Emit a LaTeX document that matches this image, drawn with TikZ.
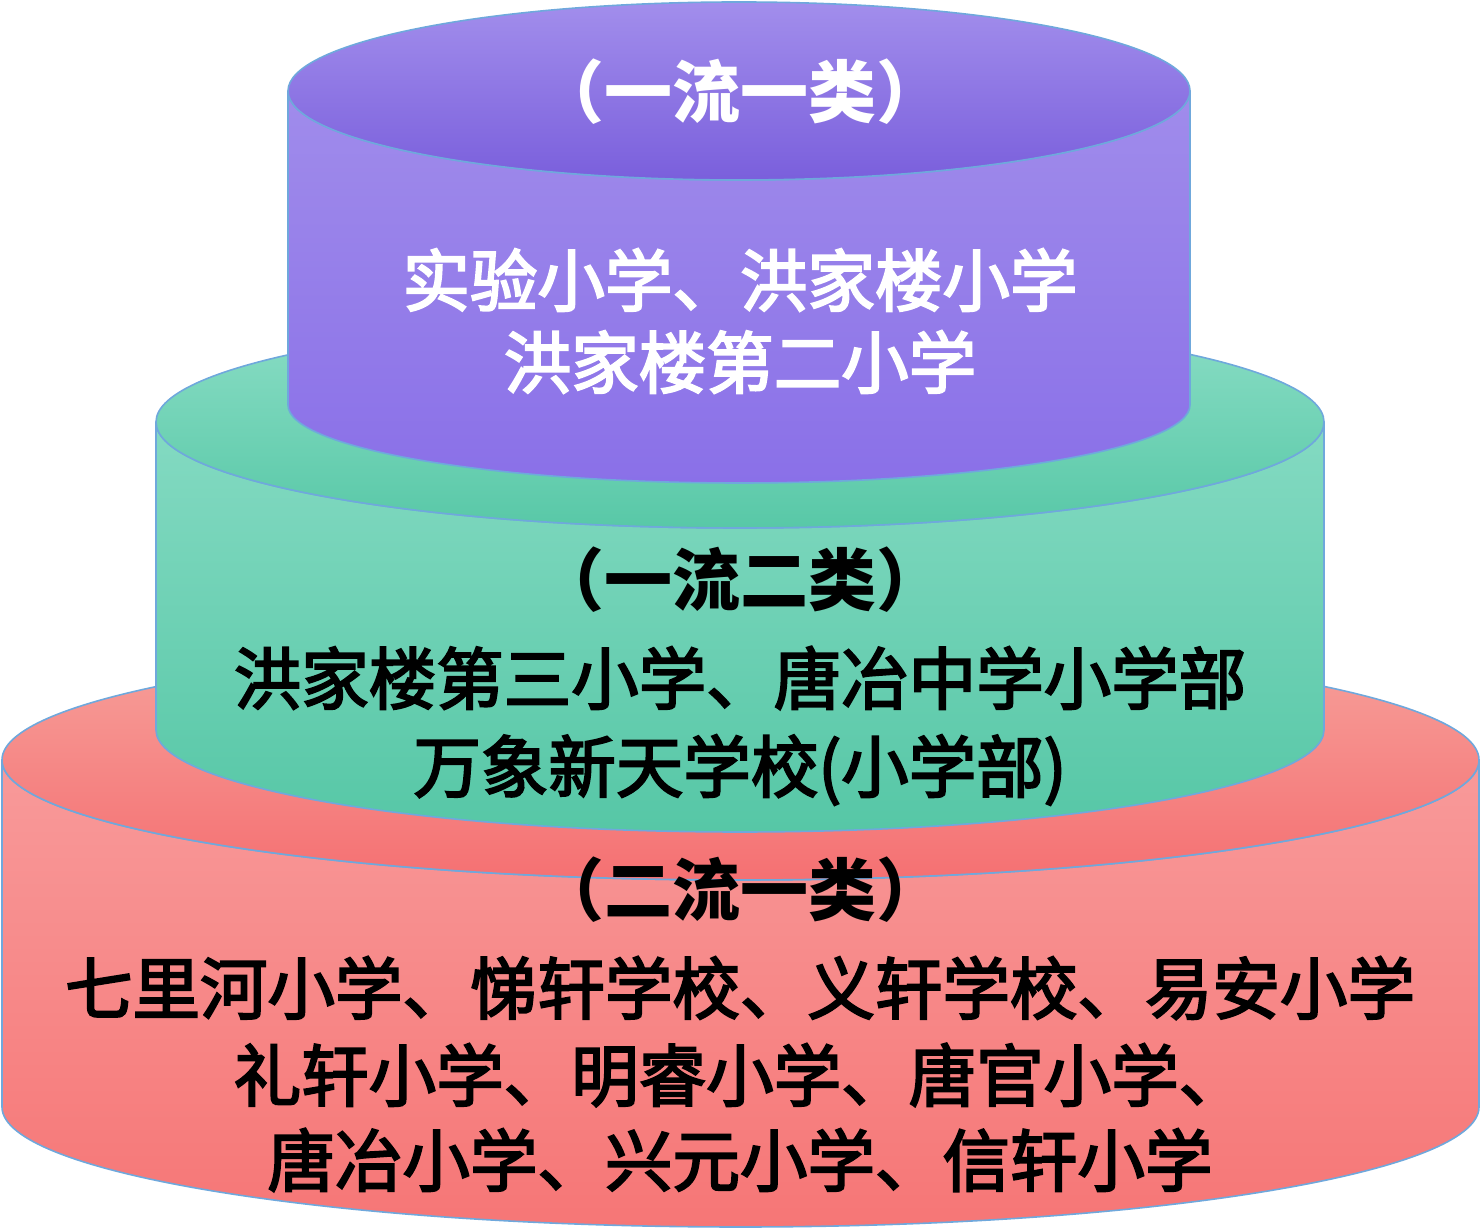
\documentclass[tikz,border=0pt]{standalone}
\usepackage{fontspec}
\newfontfamily\cjk{Noto Sans CJK SC}
\newfontfamily\cjkmed[FakeBold=3]{Noto Sans CJK SC}
\definecolor{edge}{HTML}{6FA8DC}
\definecolor{redSideT}{HTML}{F89A9A}
\definecolor{redSideB}{HTML}{F67676}
\definecolor{redTopB}{HTML}{F6A29C}
\definecolor{redTopF}{HTML}{F57072}
\definecolor{grnSideT}{HTML}{84DAC2}
\definecolor{grnSideB}{HTML}{56C7A6}
\definecolor{grnTopB}{HTML}{8CDEC6}
\definecolor{grnTopF}{HTML}{58C8A7}
\definecolor{purSideT}{HTML}{A08CEB}
\definecolor{purSideB}{HTML}{8A70E8}
\definecolor{purTopB}{HTML}{A28EEC}
\definecolor{purTopF}{HTML}{7A5FDC}
\tikzset{
  cyl/.style={draw=edge, line width=1.6pt, line join=round},
  head/.style={inner sep=0pt, font=\cjk\bfseries\fontsize{68}{80}\selectfont, text=black},
  body/.style={inner sep=0pt, font=\cjkmed\fontsize{67.5}{80}\selectfont, text=black},
  whead/.style={head, text=white},
  wbody/.style={body, text=white}
}
\begin{document}
\begin{tikzpicture}[x=1pt,y=1pt]
\useasboundingbox (0,0) rectangle (1481,1229);
% ---------- red (bottom) cylinder ----------
\path[cyl, top color=redSideT, bottom color=redSideB]
  (2,469) coordinate (rTL) -- (2,122)
  arc[start angle=180, end angle=360, x radius=738.5, y radius=120]
  -- (1479,469) coordinate (rTR)
  arc[start angle=0, end angle=-180, x radius=738.5, y radius=120] -- cycle;
\path[cyl, top color=redTopB, bottom color=redTopF]
  (740.5,469) coordinate (rC) ellipse [x radius=738.5, y radius=120];
% ---------- green (middle) cylinder ----------
\path[cyl, top color=grnSideT, bottom color=grnSideB]
  (156,807) -- (156,499)
  arc[start angle=180, end angle=360, x radius=584, y radius=102]
  -- (1324,807)
  arc[start angle=0, end angle=-180, x radius=584, y radius=106] -- cycle;
\path[cyl, top color=grnTopB, bottom color=grnTopF]
  (740,807) coordinate (gC) ellipse [x radius=584, y radius=106];
% ---------- purple (top) cylinder ----------
\path[cyl, top color=purSideT, bottom color=purSideB]
  (288,1138) -- (288,824)
  arc[start angle=180, end angle=360, x radius=451, y radius=78]
  -- (1190,1138)
  arc[start angle=0, end angle=-180, x radius=451, y radius=89] -- cycle;
\path[cyl, top color=purTopB, bottom color=purTopF]
  (739,1138) coordinate (pC) ellipse [x radius=451, y radius=89];
% ---------- texts ----------
\node[whead] (p0) at (740,1137) {（一流一类）};
\node[wbody] (p1) at (740,949) {实验小学、洪家楼小学};
\node[wbody] (p2) at (740,867) {洪家楼第二小学};
\node[head] (g0) at (740,649) {（一流二类）};
\node[body] (g1) at (740,551) {洪家楼第三小学、唐冶中学小学部};
\node[body] (g2) at (740,459) {万象新天学校(小学部)};
\node[head] (r0) at (740,339) {（二流一类）};
\node[body] (r1) at (740,241) {七里河小学、悌轩学校、义轩学校、易安小学};
\node[body] (r2) at (740,154) {礼轩小学、明睿小学、唐官小学、};
\node[body] (r3) at (740,69) {唐冶小学、兴元小学、信轩小学};
\end{tikzpicture}
\end{document}
